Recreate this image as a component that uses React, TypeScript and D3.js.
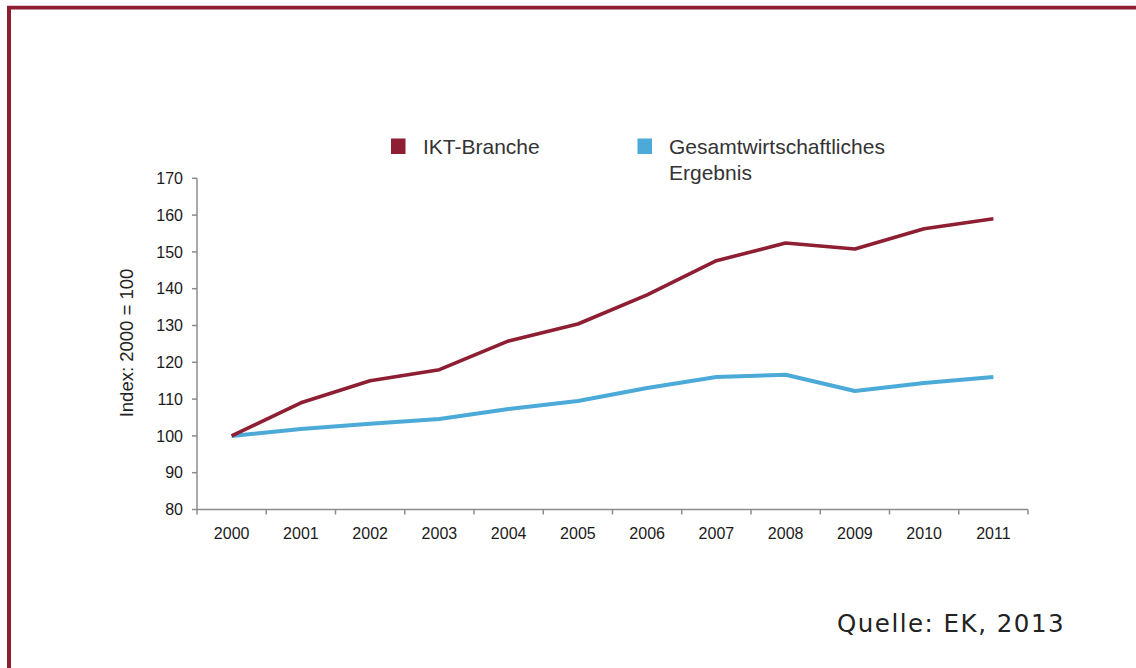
import React from "react";
import * as d3 from "d3";

const years = ["2000","2001","2002","2003","2004","2005","2006","2007","2008","2009","2010","2011"];
const ikt = [100, 109, 115, 118, 125.8, 130.4, 138.3, 147.6, 152.4, 150.8, 156.3, 159];
const gesamt = [100, 101.9, 103.3, 104.6, 107.3, 109.5, 113, 116, 116.6, 112.2, 114.4, 116];
const yTicks = [80, 90, 100, 110, 120, 130, 140, 150, 160, 170];

const RED = "#8E1E32";
const BLUE = "#4BAAD8";
const AXIS = "#8c8c8c";
const FONT = "'Liberation Sans', Arial, sans-serif";

export default function App() {
  const x = d3.scaleBand<string>().domain(years).range([197, 1028]);
  const y = d3.scaleLinear().domain([80, 170]).range([509.5, 178.3]);
  const cx = (yr: string) => (x(yr) as number) + x.bandwidth() / 2;
  const line = d3
    .line<number>()
    .x((_, i) => cx(years[i]))
    .y((v) => y(v));

  const x0 = 197;
  const x1 = 1028;
  const yBase = y(80);

  return (
    <svg
      width={1136}
      height={668}
      style={{ position: "absolute", left: 0, top: 0, background: "#fff" }}
    >
      <rect x={0} y={0} width={1136} height={668} fill="#fff" />
      {/* frame */}
      <line x1={7} y1={7.6} x2={1136} y2={7.6} stroke={RED} strokeWidth={3.6} />
      <line x1={9} y1={6} x2={9} y2={668} stroke={RED} strokeWidth={4} />

      {/* legend */}
      <rect x={391} y={138.5} width={14.5} height={15.5} fill={RED} />
      <text x={423} y={154} fontFamily={FONT} fontSize={21} fill="#333">IKT-Branche</text>
      <rect x={637.5} y={138.5} width={14.5} height={15.5} fill={BLUE} />
      <text x={669} y={154} fontFamily={FONT} fontSize={21} fill="#333">Gesamtwirtschaftliches</text>
      <text x={669} y={180} fontFamily={FONT} fontSize={21} fill="#333">Ergebnis</text>

      {/* y axis */}
      <line x1={x0} y1={y(170)} x2={x0} y2={yBase} stroke={AXIS} strokeWidth={1.5} />
      {yTicks.map((t) => (
        <g key={t}>
          <line x1={x0 - 5} y1={y(t)} x2={x0} y2={y(t)} stroke={AXIS} strokeWidth={1.5} />
          <text
            x={183}
            y={y(t)}
            dy="0.35em"
            textAnchor="end"
            fontFamily={FONT}
            fontSize={16}
            fill="#1a1a1a"
          >
            {t}
          </text>
        </g>
      ))}
      <text
        transform={`translate(133,343) rotate(-90)`}
        textAnchor="middle"
        fontFamily={FONT}
        fontSize={18.5}
        fill="#222"
      >
        Index: 2000 = 100
      </text>

      {/* x axis */}
      <line x1={x0} y1={yBase} x2={x1} y2={yBase} stroke={AXIS} strokeWidth={1.5} />
      {years.map((yr) => (
        <line
          key={"t" + yr}
          x1={(x(yr) as number) + x.bandwidth()}
          y1={yBase}
          x2={(x(yr) as number) + x.bandwidth()}
          y2={yBase + 5}
          stroke={AXIS}
          strokeWidth={1.5}
        />
      ))}
      <line x1={x0} y1={yBase} x2={x0} y2={yBase + 5} stroke={AXIS} strokeWidth={1.5} />
      {years.map((yr) => (
        <text
          key={"l" + yr}
          x={cx(yr)}
          y={539}
          textAnchor="middle"
          fontFamily={FONT}
          fontSize={16}
          fill="#1a1a1a"
        >
          {yr}
        </text>
      ))}

      {/* lines */}
      <path d={line(gesamt) || ""} fill="none" stroke={BLUE} strokeWidth={4} strokeLinejoin="round" />
      <path d={line(ikt) || ""} fill="none" stroke={RED} strokeWidth={3.6} strokeLinejoin="round" />

      {/* source */}
      <text
        x={837}
        y={632}
        fontFamily="'DejaVu Sans', Verdana, sans-serif"
        fontSize={24.5}
        letterSpacing={1.5}
        fill="#222"
      >
        Quelle: EK, 2013
      </text>
    </svg>
  );
}
